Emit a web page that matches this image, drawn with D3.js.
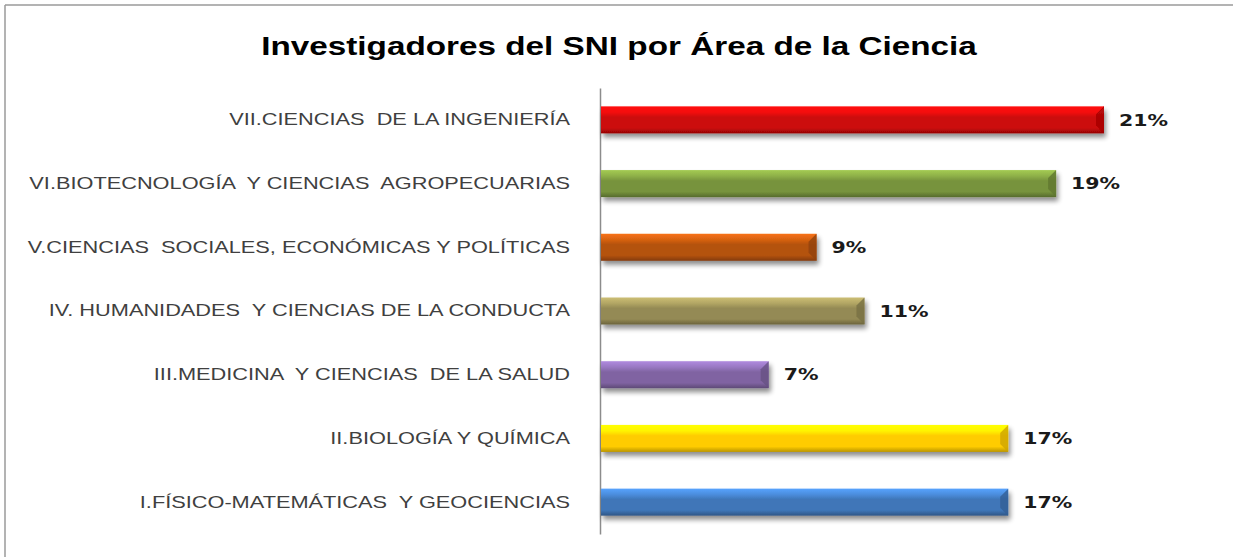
<!DOCTYPE html>
<html>
<head>
<meta charset="utf-8">
<script src="https://cdn.jsdelivr.net/npm/d3@7"></script>
<style>
  body { margin: 0; background: #fff; }
  text { white-space: pre; }
</style>
</head>
<body>
<script>
// chart data, top bar first
var categories = [
  "VII.CIENCIAS  DE LA INGENIERÍA",
  "VI.BIOTECNOLOGÍA  Y CIENCIAS  AGROPECUARIAS",
  "V.CIENCIAS  SOCIALES, ECONÓMICAS Y POLÍTICAS",
  "IV. HUMANIDADES  Y CIENCIAS DE LA CONDUCTA",
  "III.MEDICINA  Y CIENCIAS  DE LA SALUD",
  "II.BIOLOGÍA Y QUÍMICA",
  "I.FÍSICO-MATEMÁTICAS  Y GEOCIENCIAS"
];
var values = [21, 19, 9, 11, 7, 17, 17];
var colors = ["#cc0808", "#77933c", "#b4520e", "#948a54", "#8064a2", "#ffcc00", "#3f76b8"];
var title = "Investigadores del SNI por Área de la Ciencia";

var width = 1233, height = 557;
var sx = 1.28; // the original picture is stretched sideways

var svg = d3.select("body").append("svg")
  .attr("width", width)
  .attr("height", height);

var defs = svg.append("defs");

// soft shadow under each bar
var shadow = defs.append("filter")
  .attr("id", "shadow")
  .attr("x", "-5%").attr("y", "-30%")
  .attr("width", "110%").attr("height", "180%");
shadow.append("feGaussianBlur").attr("in", "SourceAlpha").attr("stdDeviation", 2.5);
shadow.append("feOffset").attr("dx", 2).attr("dy", 4).attr("result", "blur");
shadow.append("feComponentTransfer").append("feFuncA").attr("type", "linear").attr("slope", 0.45);
var merge = shadow.append("feMerge");
merge.append("feMergeNode");
merge.append("feMergeNode").attr("in", "SourceGraphic");

// one gradient per bar colour
colors.forEach(function(c, i) {
  var base = d3.color(c);
  var g = defs.append("linearGradient")
    .attr("id", "grad" + i)
    .attr("x1", 0).attr("y1", 0).attr("x2", 0).attr("y2", 1);
  g.append("stop").attr("offset", "0%").attr("stop-color", base.brighter(0.9));
  g.append("stop").attr("offset", "22%").attr("stop-color", base.brighter(0.5));
  g.append("stop").attr("offset", "40%").attr("stop-color", base);
  g.append("stop").attr("offset", "80%").attr("stop-color", base);
  g.append("stop").attr("offset", "100%").attr("stop-color", base.darker(0.9));
});

// outer frame (only top and left show in the picture)
svg.append("line")
  .attr("x1", 5).attr("y1", 5).attr("x2", width).attr("y2", 5)
  .attr("stroke", "#9a9a9a").attr("stroke-width", 1.5);
svg.append("line")
  .attr("x1", 5).attr("y1", 5).attr("x2", 5).attr("y2", height)
  .attr("stroke", "#9a9a9a").attr("stroke-width", 1.5);

// title
svg.append("g")
  .attr("transform", "translate(619,55) scale(" + sx + ",1)")
  .append("text")
  .attr("text-anchor", "middle")
  .attr("font-family", "Liberation Sans, Arial, sans-serif")
  .attr("font-weight", "bold")
  .attr("font-size", 26)
  .attr("fill", "#000")
  .text(title);

var x = d3.scaleLinear().domain([0, 21]).range([601, 1104]);
var y = d3.scaleBand()
  .domain(categories)
  .range([88, 534])
  .paddingInner(0.576)
  .paddingOuter(0.288);

// category axis
var yAxis = d3.axisLeft(y).tickSize(0).tickPadding(30);
var gy = svg.append("g")
  .attr("transform", "translate(600,0)")
  .call(yAxis);
gy.select(".domain").attr("stroke", "#8c8c8c").attr("stroke-width", 1.5);
gy.selectAll("text")
  .attr("x", -30 / sx)
  .attr("transform", "scale(" + sx + ",1)")
  .attr("font-family", "Liberation Sans, Arial, sans-serif")
  .attr("font-size", 17)
  .attr("fill", "#404040");

// bars
var bars = svg.selectAll(".bar")
  .data(values)
  .enter()
  .append("g")
  .attr("class", "bar")
  .attr("filter", "url(#shadow)");

bars.append("rect")
  .attr("x", x(0))
  .attr("y", function(d, i) { return y(categories[i]); })
  .attr("width", function(d) { return x(d) - x(0); })
  .attr("height", y.bandwidth())
  .attr("fill", function(d, i) { return "url(#grad" + i + ")"; });

// bevel at the right end
bars.append("path")
  .attr("d", function(d, i) {
    var x1 = x(d), y0 = y(categories[i]), h = y.bandwidth(), b = 8;
    return "M" + x1 + "," + y0 + "L" + (x1 - b) + "," + (y0 + b) +
      "L" + (x1 - b) + "," + (y0 + h - b) + "L" + x1 + "," + (y0 + h) + "Z";
  })
  .attr("fill", function(d, i) { return d3.color(colors[i]).darker(0.6); })
  .attr("opacity", 0.8);

// value labels
svg.selectAll(".val")
  .data(values)
  .enter()
  .append("g")
  .attr("class", "val")
  .attr("transform", function(d, i) {
    return "translate(" + (x(d) + 15) + "," + (y(categories[i]) + y.bandwidth() / 2) + ") scale(" + sx + ",1)";
  })
  .append("text")
  .attr("dy", "0.36em")
  .attr("font-family", "DejaVu Sans, Verdana, sans-serif")
  .attr("font-weight", "bold")
  .attr("font-size", 16)
  .attr("fill", "#1a1a1a")
  .text(function(d) { return d + "%"; });
</script>
</body>
</html>
